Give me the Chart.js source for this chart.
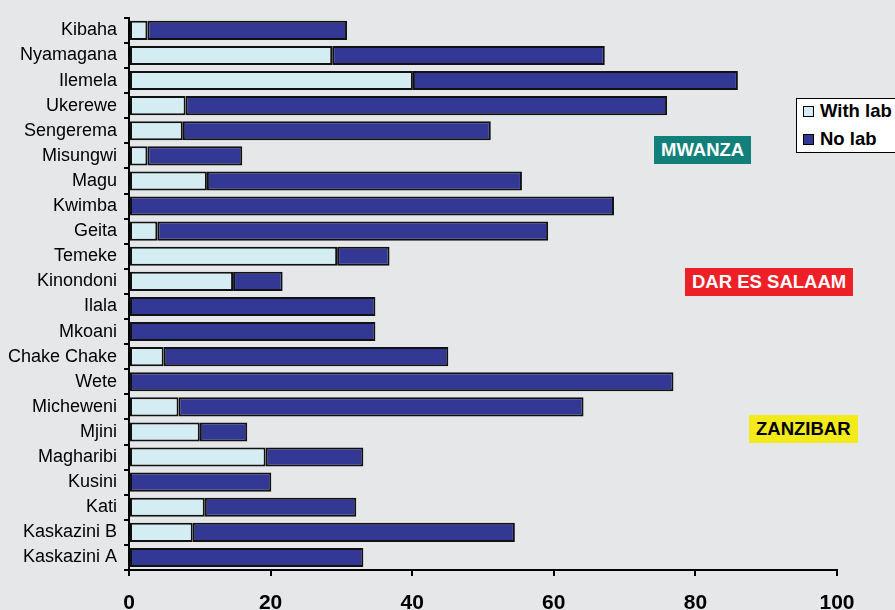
<!DOCTYPE html>
<html>
<head>
<meta charset="utf-8">
<script src="https://cdn.jsdelivr.net/npm/chart.js@4.4.1/dist/chart.umd.min.js"></script>
<style>
  body { margin: 0; background: #e6e7e9; font-family: 'Liberation Sans', Arial, sans-serif; }
  #wrap { position: relative; width: 895px; height: 610px; overflow: hidden; }
  .region { position: absolute; font-weight: bold; font-size: 18.5px; line-height: 28px; padding: 0 7px; }
  #legend { position: absolute; left: 796px; top: 98px; width: 110px; height: 55px;
    background: #fff; border: 1.5px solid #000; box-sizing: border-box; font-weight: bold; font-size: 18.5px; }
  #legend div { position: absolute; left: 6px; }
  #legend span.box { display: inline-block; width: 9px; height: 9px; border: 1.5px solid #000; margin-right: 6px; vertical-align: 0px; }
</style>
</head>
<body>
<div id="wrap">
  <canvas id="myCanvas" width="895" height="610"></canvas>
  <div class="region" style="left:654px; top:136px; background:#11807b; color:#fff;">MWANZA</div>
  <div class="region" style="left:685px; top:268px; background:#ee2027; color:#fff;">DAR ES SALAAM</div>
  <div class="region" style="left:749px; top:415px; background:#f2ea1a; color:#000;">ZANZIBAR</div>
  <div id="legend"></div>
</div>
<script>
'use strict';

// data (percent of facilities)
const districts = ['Kibaha', 'Nyamagana', 'Ilemela', 'Ukerewe', 'Sengerema', 'Misungwi', 'Magu', 'Kwimba',
  'Geita', 'Temeke', 'Kinondoni', 'Ilala', 'Mkoani', 'Chake Chake', 'Wete', 'Micheweni', 'Mjini',
  'Magharibi', 'Kusini', 'Kati', 'Kaskazini B', 'Kaskazini A'];
const withLab = [2.6, 28.7, 40.1, 8.0, 7.6, 2.6, 11.0, 0, 4.0, 29.4, 14.7, 0, 0, 4.9, 0, 7.0, 10.0, 19.3, 0, 10.7, 9.0, 0];
const noLab = [28.2, 38.5, 45.9, 68.0, 43.5, 13.4, 44.5, 68.5, 55.2, 7.4, 7.0, 34.8, 34.8, 40.2, 76.9, 57.2, 6.7, 13.8, 20.1, 21.4, 45.5, 33.1];
const xTicks = [0, 20, 40, 60, 80, 100];

const seriesNames = ['With lab', 'No lab'];
const seriesColors = ['#d3edf3', '#333894'];

const data = {
  labels: districts,
  datasets: [{
    label: seriesNames[0],
    data: withLab,
    backgroundColor: seriesColors[0],
    borderColor: '#111',
    borderWidth: 2,
    borderSkipped: false
  },
  {
    label: seriesNames[1],
    data: noLab,
    backgroundColor: seriesColors[1],
    borderColor: '#111',
    borderWidth: 2,
    borderSkipped: false
  }]
};

const config = {
  type: 'bar',
  data: data,
  options: {
    indexAxis: 'y',
    animation: false,
    responsive: false,
    events: [],
    layout: { padding: { top: 13, right: 58 } },
    datasets: { bar: { categoryPercentage: 1, barPercentage: 0.76 } },
    plugins: { legend: { display: false }, tooltip: { enabled: false } },
    scales: {
      x: {
        stacked: true,
        min: 0,
        max: 100,
        afterBuildTicks: function (scale) {
          scale.ticks = xTicks.map(v => ({ value: v }));
        },
        afterFit: function (scale) { scale.height = 40; },
        grid: { drawOnChartArea: false, tickLength: 6, color: '#000', lineWidth: 2 },
        border: { color: '#000', width: 2 },
        ticks: { color: '#000', padding: 15, font: { family: 'Liberation Sans', size: 21, weight: 'bold' } }
      },
      y: {
        stacked: true,
        afterFit: function (scale) { scale.width = 129; },
        grid: { offset: true, drawOnChartArea: false, tickLength: 5, color: '#000', lineWidth: 2 },
        border: { color: '#000', width: 2 },
        ticks: { color: '#000', padding: 7, autoSkip: false, font: { family: 'Liberation Sans', size: 18 } }
      }
    }
  }
};

const chart = document.getElementById('myCanvas');
const myChart = new Chart(chart, config);

// legend box built from the series
const legend = document.getElementById('legend');
for (let i = 0; i < seriesNames.length; i++) {
  let row = document.createElement('div');
  row.style.top = (i === 0 ? 1 : 29) + 'px';
  row.innerHTML = '<span class="box" style="background:' + seriesColors[i] + '"></span>' + seriesNames[i];
  legend.appendChild(row);
}
</script>
</body>
</html>
